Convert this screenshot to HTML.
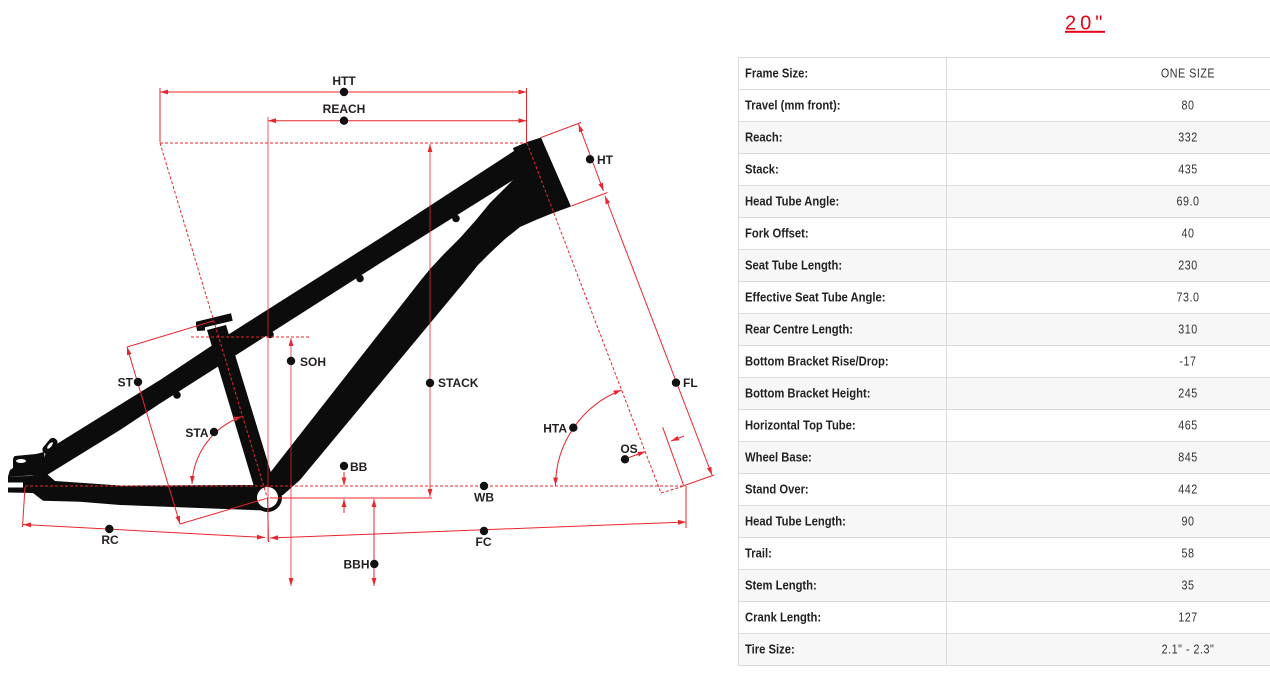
<!DOCTYPE html>
<html><head><meta charset="utf-8"><style>
html,body{margin:0;padding:0;background:#fff;}
svg{display:block;}
.lb{font-family:"Liberation Sans",Arial,sans-serif;font-weight:bold;font-size:12px;fill:#231f20;}
.tl{font-family:"Liberation Sans",Arial,sans-serif;font-weight:bold;font-size:12.5px;fill:#222;}
.tv{font-family:"Liberation Sans",Arial,sans-serif;font-size:12.5px;fill:#333;letter-spacing:0.6px;}
</style></head><body>
<svg width="1270" height="674" viewBox="0 0 1270 674" xmlns="http://www.w3.org/2000/svg">
<defs>
<marker id="a" viewBox="0 0 10 6" refX="10" refY="3" markerWidth="8" markerHeight="5.5" markerUnits="userSpaceOnUse" orient="auto-start-reverse"><path d="M0,0 L10,3 L0,6 Z" fill="#e8262d"/></marker>
</defs>

<!-- ===== TABLE ===== -->
<g>
<rect x="738.5" y="121" width="540" height="32" fill="#f7f7f7"/>
<rect x="738.5" y="185" width="540" height="32" fill="#f7f7f7"/>
<rect x="738.5" y="249" width="540" height="32" fill="#f7f7f7"/>
<rect x="738.5" y="313" width="540" height="32" fill="#f7f7f7"/>
<rect x="738.5" y="377" width="540" height="32" fill="#f7f7f7"/>
<rect x="738.5" y="441" width="540" height="32" fill="#f7f7f7"/>
<rect x="738.5" y="505" width="540" height="32" fill="#f7f7f7"/>
<rect x="738.5" y="569" width="540" height="32" fill="#f7f7f7"/>
<rect x="738.5" y="633" width="540" height="32" fill="#f7f7f7"/>
<g stroke="#dadada" stroke-width="1">
<line x1="738" y1="57.5" x2="1270" y2="57.5"/><line x1="738" y1="89.5" x2="1270" y2="89.5"/>
<line x1="738" y1="121.5" x2="1270" y2="121.5"/><line x1="738" y1="153.5" x2="1270" y2="153.5"/>
<line x1="738" y1="185.5" x2="1270" y2="185.5"/><line x1="738" y1="217.5" x2="1270" y2="217.5"/>
<line x1="738" y1="249.5" x2="1270" y2="249.5"/><line x1="738" y1="281.5" x2="1270" y2="281.5"/>
<line x1="738" y1="313.5" x2="1270" y2="313.5"/><line x1="738" y1="345.5" x2="1270" y2="345.5"/>
<line x1="738" y1="377.5" x2="1270" y2="377.5"/><line x1="738" y1="409.5" x2="1270" y2="409.5"/>
<line x1="738" y1="441.5" x2="1270" y2="441.5"/><line x1="738" y1="473.5" x2="1270" y2="473.5"/>
<line x1="738" y1="505.5" x2="1270" y2="505.5"/><line x1="738" y1="537.5" x2="1270" y2="537.5"/>
<line x1="738" y1="569.5" x2="1270" y2="569.5"/><line x1="738" y1="601.5" x2="1270" y2="601.5"/>
<line x1="738" y1="633.5" x2="1270" y2="633.5"/><line x1="738" y1="665.5" x2="1270" y2="665.5"/>
<line x1="738.5" y1="57" x2="738.5" y2="666"/>
<line x1="946.5" y1="57" x2="946.5" y2="666"/>
</g>
<g transform="translate(745,0) scale(0.9,1)" class="tl">
<text x="0" y="77.5">Frame Size:</text>
<text x="0" y="109.5">Travel (mm front):</text>
<text x="0" y="141.5">Reach:</text>
<text x="0" y="173.5">Stack:</text>
<text x="0" y="205.5">Head Tube Angle:</text>
<text x="0" y="237.5">Fork Offset:</text>
<text x="0" y="269.5">Seat Tube Length:</text>
<text x="0" y="301.5">Effective Seat Tube Angle:</text>
<text x="0" y="333.5">Rear Centre Length:</text>
<text x="0" y="365.5">Bottom Bracket Rise/Drop:</text>
<text x="0" y="397.5">Bottom Bracket Height:</text>
<text x="0" y="429.5">Horizontal Top Tube:</text>
<text x="0" y="461.5">Wheel Base:</text>
<text x="0" y="493.5">Stand Over:</text>
<text x="0" y="525.5">Head Tube Length:</text>
<text x="0" y="557.5">Trail:</text>
<text x="0" y="589.5">Stem Length:</text>
<text x="0" y="621.5">Crank Length:</text>
<text x="0" y="653.5">Tire Size:</text>
</g>
<g transform="translate(1188,0) scale(0.86,1)" class="tv" text-anchor="middle">
<text x="0" y="77.5">ONE SIZE</text>
<text x="0" y="109.5">80</text>
<text x="0" y="141.5">332</text>
<text x="0" y="173.5">435</text>
<text x="0" y="205.5">69.0</text>
<text x="0" y="237.5">40</text>
<text x="0" y="269.5">230</text>
<text x="0" y="301.5">73.0</text>
<text x="0" y="333.5">310</text>
<text x="0" y="365.5">-17</text>
<text x="0" y="397.5">245</text>
<text x="0" y="429.5">465</text>
<text x="0" y="461.5">845</text>
<text x="0" y="493.5">442</text>
<text x="0" y="525.5">90</text>
<text x="0" y="557.5">58</text>
<text x="0" y="589.5">35</text>
<text x="0" y="621.5">127</text>
<text x="0" y="653.5">2.1" - 2.3"</text>
</g>
<text x="1065" y="29.3" font-family="Liberation Sans, Arial, sans-serif" font-size="20" letter-spacing="4" fill="#e60012">20"</text>
<rect x="1065" y="30.8" width="40" height="2" fill="#e60012"/>
</g>

<!-- ===== FRAME ===== -->
<g fill="#0c0c0c">
<!-- top tube + seat stay -->
<path d="M514,151 L380,238.3 L230,333.5 L160,380 L97,419 L60,442 L46,451 L42,470 L47,475 L120,430 L160,403.5 L380,263.3 L518,177 L530,170 Z"/>
<!-- head tube -->
<path d="M513,148 L527,142 L541,137.5 L571,206.5 L553,213 L537,219.5 L535,214 Z"/>
<!-- down tube -->
<path d="M530,170 L515,178 L503,190 L490,203 L476,220 L460,238 L444,254 L430,269 L421,280 L280,460 L266,478 L275,497 L283,495 L300,480 L466,280 L478,265 L490,253 L505,239 L520,227 L537,219.5 Z"/>
<!-- seat tube -->
<path d="M207,330 L226,325 L272,476 L262,492 L255,490 Z"/>
<!-- seat collar -->
<path d="M196,321.7 L231,313.3 L232.7,320.7 L205,327.3 L205,330.5 L197.3,331 L196,326 Z"/>
<!-- chainstay + dropout -->
<path d="M47,474 L55,481 L120,485.5 L258,485 L270,500 L265,510.5 L120,505 L80,501.7 L43,500.7 L33,493 L8,492.5 L8,487.5 L23,487.5 L23,482.5 L8,482.5 L8,476.5 L30,476 Z"/>
<path d="M15,456 Q13,457 13,460 L13,468 L10,470 L8,476.5 L47,475 L44,452 L36,454 Z"/>
<!-- bosses -->
<circle cx="456" cy="218.5" r="3.8"/>
<circle cx="360" cy="278.5" r="3.8"/>
<circle cx="270" cy="334.5" r="3.8"/>
<circle cx="177" cy="395" r="3.8"/>
<!-- rear tab -->
<rect x="-4.5" y="-9" width="9" height="18" rx="4" transform="translate(50,446) rotate(40)"/>
<!-- BB shell -->
<circle cx="267.5" cy="497.5" r="14.5"/>
</g>
<ellipse cx="21" cy="461" rx="5" ry="2" fill="#fff"/>
<ellipse cx="50" cy="445.5" rx="1.6" ry="4" transform="rotate(40 50 445.5)" fill="#fff"/>
<circle cx="267.5" cy="497.5" r="10.5" fill="#fff"/>

<!-- ===== RED DIMENSIONS ===== -->
<g stroke="#e8262d" stroke-width="1" fill="none">
<g stroke-dasharray="3,2">
<line x1="160" y1="143" x2="527" y2="143"/>
<line x1="160" y1="143" x2="267" y2="497"/>
<line x1="25" y1="486" x2="684" y2="486"/>
<line x1="527" y1="143" x2="661" y2="493"/>
<line x1="661" y1="493" x2="684" y2="486"/>
<line x1="191" y1="337" x2="310" y2="337"/>
</g>
<!-- HTT -->
<line x1="160" y1="92" x2="526.5" y2="92" marker-start="url(#a)" marker-end="url(#a)"/>
<line x1="160" y1="88" x2="160" y2="142"/>
<line x1="526.5" y1="88" x2="526.5" y2="142"/>
<!-- REACH -->
<line x1="268" y1="120.7" x2="526.5" y2="120.7" marker-start="url(#a)" marker-end="url(#a)"/>
<line x1="268" y1="117" x2="268" y2="541" stroke-opacity="0.75"/>
<!-- STACK -->
<line x1="430" y1="144" x2="430" y2="497" marker-start="url(#a)" marker-end="url(#a)" stroke-opacity="0.8"/>
<line x1="270" y1="498" x2="432" y2="498"/>
<!-- SOH -->
<line x1="291" y1="338" x2="291" y2="586" marker-start="url(#a)" marker-end="url(#a)" stroke-opacity="0.8"/>
<!-- BB -->
<line x1="344" y1="472" x2="344" y2="485.5" marker-end="url(#a)"/>
<line x1="344" y1="513" x2="344" y2="499" marker-end="url(#a)"/>
<!-- BBH -->
<line x1="374" y1="499" x2="374" y2="586" marker-start="url(#a)" marker-end="url(#a)"/>
<!-- FC -->
<line x1="270" y1="538" x2="686" y2="522" marker-start="url(#a)" marker-end="url(#a)"/>
<line x1="686" y1="486" x2="686" y2="528"/>
<!-- RC -->
<line x1="23" y1="524.5" x2="265" y2="537.5" marker-start="url(#a)" marker-end="url(#a)"/>
<line x1="25" y1="487" x2="22.5" y2="527"/>
<line x1="267.5" y1="497" x2="268.5" y2="542"/>
<!-- ST -->
<line x1="127" y1="347" x2="180" y2="524" marker-start="url(#a)" marker-end="url(#a)"/>
<line x1="127" y1="347" x2="213" y2="321"/>
<line x1="180" y1="524" x2="266.7" y2="498.3"/>
<!-- STA arc -->
<path d="M242,416.5 A75,75 0 0,0 192,484" marker-start="url(#a)" marker-end="url(#a)"/>
<!-- HTA arc -->
<path d="M621.5,390 A103,103 0 0,0 555.5,485.5" marker-start="url(#a)" marker-end="url(#a)"/>
<!-- HT -->
<line x1="578.5" y1="124" x2="603.5" y2="191" marker-start="url(#a)" marker-end="url(#a)"/>
<line x1="541" y1="137.5" x2="581" y2="122.5"/>
<line x1="571.5" y1="206" x2="607.5" y2="192.5"/>
<!-- FL -->
<line x1="605" y1="196" x2="712" y2="475" marker-start="url(#a)" marker-end="url(#a)"/>
<line x1="683" y1="486" x2="714" y2="475"/>
<!-- OS -->
<line x1="662.7" y1="427.3" x2="683.5" y2="485"/>
<line x1="684" y1="436" x2="671" y2="441" marker-end="url(#a)"/>
<line x1="629" y1="457.5" x2="645.5" y2="451.5" marker-end="url(#a)"/>
</g>

<!-- ===== DOTS ===== -->
<g fill="#111">
<circle cx="344" cy="92" r="4.2"/>
<circle cx="344" cy="120.7" r="4.2"/>
<circle cx="590" cy="159.3" r="4.2"/>
<circle cx="291" cy="361" r="4.2"/>
<circle cx="138" cy="382" r="4.2"/>
<circle cx="214" cy="432" r="4.2"/>
<circle cx="430" cy="383" r="4.2"/>
<circle cx="676" cy="382.7" r="4.2"/>
<circle cx="573.3" cy="427.7" r="4.2"/>
<circle cx="625" cy="459.3" r="4.2"/>
<circle cx="344" cy="466" r="4.2"/>
<circle cx="484" cy="486" r="4.2"/>
<circle cx="484" cy="531" r="4.2"/>
<circle cx="109.3" cy="529" r="4.2"/>
<circle cx="374.3" cy="564" r="4.2"/>
</g>

<!-- ===== LABELS ===== -->
<g class="lb">
<text x="344" y="85" text-anchor="middle">HTT</text>
<text x="344" y="113" text-anchor="middle">REACH</text>
<text x="597" y="164">HT</text>
<text x="300" y="366">SOH</text>
<text x="133" y="386.5" text-anchor="end">ST</text>
<text x="208.5" y="437" text-anchor="end">STA</text>
<text x="438" y="387">STACK</text>
<text x="683" y="387">FL</text>
<text x="567" y="432.5" text-anchor="end">HTA</text>
<text x="629" y="453" text-anchor="middle">OS</text>
<text x="350" y="471">BB</text>
<text x="484" y="501.5" text-anchor="middle">WB</text>
<text x="483.5" y="546" text-anchor="middle">FC</text>
<text x="110" y="544" text-anchor="middle">RC</text>
<text x="369.5" y="568.5" text-anchor="end">BBH</text>
</g>
</svg>
</body></html>
